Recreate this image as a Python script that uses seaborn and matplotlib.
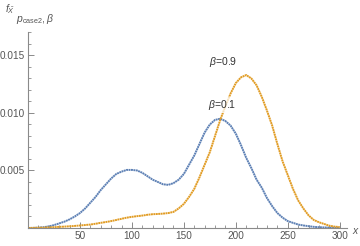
import numpy as np
import pandas as pd
import matplotlib
matplotlib.use("Agg")
import matplotlib.pyplot as plt
import seaborn as sns
from matplotlib.ticker import MultipleLocator

x_vals = list(range(0, 301, 5))
beta01 = [0, 0.00001, 0.00003, 0.00007, 0.00014, 0.00025, 0.0004, 0.00055, 0.00075, 0.001,
          0.0013, 0.0017, 0.0022, 0.0027, 0.0033, 0.0038, 0.0043, 0.0047, 0.0049, 0.00505,
          0.00505, 0.0050, 0.0048, 0.0045, 0.0042, 0.0040, 0.0038, 0.00375, 0.0039, 0.0042,
          0.0047, 0.0055, 0.0063, 0.0073, 0.0083, 0.0090, 0.0094, 0.0095, 0.0093, 0.0089,
          0.0082, 0.0072, 0.0061, 0.0052, 0.0042, 0.0035, 0.0026, 0.0019, 0.0013, 0.0009,
          0.0006, 0.00045, 0.0003, 0.00022, 0.00016, 0.0001, 0.00007, 0.00005, 0.00003, 0.00002,
          0.00001]
beta09 = [0, 0.00001, 0.00002, 0.00003, 0.00005, 0.00007, 0.0001, 0.00012, 0.00015, 0.00018,
          0.00022, 0.00026, 0.0003, 0.00037, 0.00045, 0.00052, 0.0006, 0.0007, 0.0008, 0.0009,
          0.00097, 0.00103, 0.00108, 0.00115, 0.0012, 0.00122, 0.00125, 0.0013, 0.0014, 0.0017,
          0.0021, 0.0027, 0.0034, 0.0044, 0.0055, 0.0066, 0.0080, 0.0094, 0.0106, 0.0117,
          0.0126, 0.0131, 0.0133, 0.0130, 0.0124, 0.0114, 0.0102, 0.0089, 0.0073, 0.0058,
          0.0046, 0.0034, 0.0024, 0.0017, 0.0011, 0.0007, 0.0005, 0.00035, 0.0002, 0.00012,
          0.00008]
series_names = ["β=0.1", "β=0.9"]
x_ticks = [50, 100, 150, 200, 250, 300]
y_ticks = [0.005, 0.010, 0.015]
y_ticklabels = ["0.005", "0.010", "0.015"]

df = pd.DataFrame({
    "x": x_vals * 2,
    "f": beta01 + beta09,
    "series": [series_names[0]] * len(x_vals) + [series_names[1]] * len(x_vals),
})

sns.set_style("white")
plt.rcParams["font.family"] = ["Liberation Sans", "DejaVu Sans"]
plt.rcParams["mathtext.fontset"] = "custom"
plt.rcParams["mathtext.it"] = "Liberation Sans:italic"
plt.rcParams["mathtext.rm"] = "Liberation Sans"

blue = "#5E81B5"
orange = "#E19C24"
axis_col = "#8a8a8a"
text_col = "#555555"

fig = plt.figure(figsize=(3.6, 2.46), dpi=100)
ax = fig.add_axes([28 / 360, 18 / 246, 319 / 360, 196 / 246])

sns.lineplot(data=df, x="x", y="f", hue="series", palette=[blue, orange],
             ax=ax, legend=False, linewidth=1.4, dashes=False)
for ln in ax.get_lines():
    ln.set_linestyle((0, (1.0, 0.25)))

ax.set_xlim(0, 307)
ax.set_ylim(0, 0.01704)
ax.set_xlabel("")
ax.set_ylabel("")
ax.set_xticks(x_ticks)
ax.set_yticks(y_ticks)
ax.set_yticklabels(y_ticklabels)
ax.xaxis.set_minor_locator(MultipleLocator(10))
ax.yaxis.set_minor_locator(MultipleLocator(0.001))
for s in ["top", "right"]:
    ax.spines[s].set_visible(False)
for s in ["left", "bottom"]:
    ax.spines[s].set_color(axis_col)
    ax.spines[s].set_linewidth(0.8)
ax.tick_params(which="major", direction="in", length=4, width=0.7, color=axis_col,
               labelsize=7.2, labelcolor=text_col, pad=2)
ax.tick_params(which="minor", direction="in", length=2, width=0.6, color=axis_col)
ax.tick_params(axis="x", bottom=True, which="both")
ax.tick_params(axis="y", left=True, which="both")

bbox = dict(boxstyle="square,pad=0.1", facecolor="white", edgecolor="none", alpha=0.7)
ax.text(186.5, 0.0107, "$\\beta$=0.1", ha="center", va="center", fontsize=7.5,
        color="#333333", bbox=bbox)
ax.text(187.5, 0.0144, "$\\beta$=0.9", ha="center", va="center", fontsize=7.5,
        color="#333333", bbox=bbox)

fig.text(352 / 360, 1 - 231 / 246, "$x$", fontsize=7.5, color=text_col, ha="left", va="center")
fig.text(5 / 360, 1 - 2 / 246, r"$f_{\tilde{X}}$", fontsize=7.5,
         color=text_col, ha="left", va="top")
fig.text(16 / 360, 1 - 12 / 246, r"$p_{\mathrm{case2}},\beta$", fontsize=7.5,
         color=text_col, ha="left", va="top")

fig.savefig("out.png", dpi=100)
